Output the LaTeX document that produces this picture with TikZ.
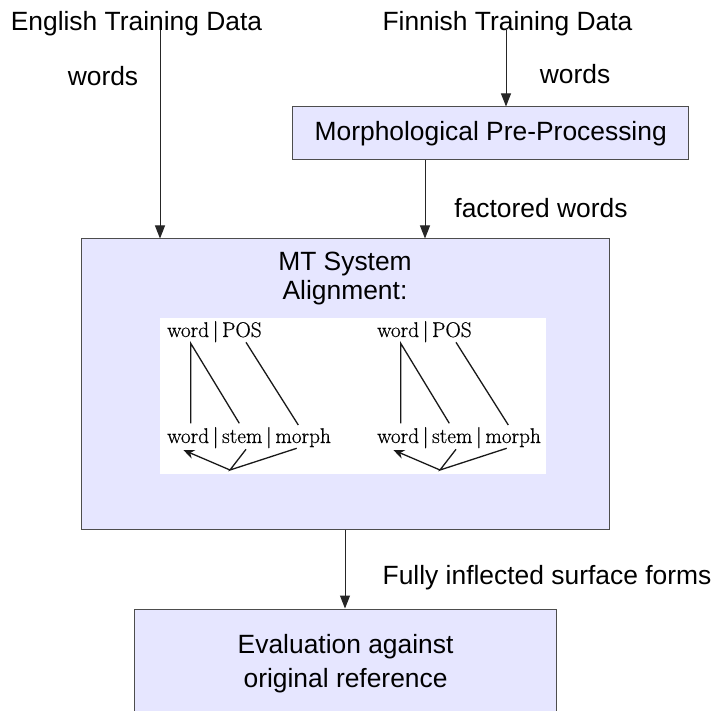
\documentclass[tikz,border=0pt]{standalone}
\usepackage{fontspec}
\setsansfont{Liberation Sans}
\newfontfamily\figfont[FakeBold=0.5]{Latin Modern Roman}
\usetikzlibrary{arrows.meta}
\definecolor{boxfill}{HTML}{E6E6FF}
\definecolor{boxline}{HTML}{4D4D4D}
\begin{document}
\begin{tikzpicture}[x=1pt,y=-1pt,
  lbl/.style={font=\sffamily\fontsize{26.4}{31}\selectfont, inner sep=0pt, anchor=base},
  box/.style={draw=boxline, fill=boxfill, line width=1pt, inner sep=0pt,
              font=\sffamily\fontsize{26.4}{34}\selectfont, align=center},
  flow/.style={draw=black!85, line width=1pt, -{Triangle[length=13pt,width=10pt]}},
  fig/.style={font=\figfont\fontsize{21.3}{24}\selectfont, inner sep=0pt, anchor=base west},
  figline/.style={line width=1.3pt, draw=black!90}]
\useasboundingbox (0,0) rectangle (713,711);
\clip (0,0) rectangle (713,711);

% data sources
\node[lbl] (eng) at (136.5,31) {English Training Data};
\node[lbl] (fin) at (507.5,31) {Finnish Training Data};
\coordinate (engdrop) at (160,30);
\coordinate (findrop) at (506,30);

% processing boxes
\node[box, minimum width=396pt, minimum height=52.7pt] (pre) at (490.7,133.3)
  {Morphological Pre-Processing};
\node[box, minimum width=527.3pt, minimum height=290pt] (mt) at (345.35,384) {};
\node[lbl] (mttitle) at (345,271) {MT System};
\node[lbl] (mtsub) at (345,300) {Alignment:};
\node[box, minimum width=422.7pt, minimum height=110pt] (eval) at (345.6,664)
  {Evaluation against\\original reference};

% connectors
\draw[flow] (engdrop) -- (engdrop |- mt.north);
\draw[flow] (findrop) -- (findrop |- pre.north);
\draw[flow] (pre.south -| 425,0) -- (mt.north -| 425,0);
\draw[flow] (mt.south -| 345,0) -- (eval.north -| 345,0);

% edge labels
\node[lbl] (w1) at (103,86) {words};
\node[lbl] (w2) at (575,84) {words};
\node[lbl] (fw) at (541,218) {factored words};
\node[lbl] (fif) at (547,584) {Fully inflected surface forms};

% factored alignment figure
\node[fill=white, minimum width=386pt, minimum height=156pt, inner sep=0pt] (panel) at (353,396) {};
\foreach \dx/\s in {0/a, 210/b} {
  \begin{scope}[xshift=\dx pt]
    \node[fig] (top\s) at (167,337) {word\,|\,POS};
    \node[fig] (bot\s) at (167,443) {word\,|\,stem\,|\,morph};
    \coordinate (tw\s) at (190.7,343.3);
    \coordinate (tp\s) at (246,342.3);
    \coordinate (bw\s) at (190.7,423.3);
    \coordinate (bs\s) at (239.3,423.3);
    \coordinate (bm\s) at (298.3,425);
    \coordinate (root\s) at (230,470);
    \coordinate (aw\s) at (183.3,450);
    \coordinate (as\s) at (246,449.3);
    \coordinate (am\s) at (296.7,448.3);
    \draw[figline] (bw\s) -- (tw\s) -- (bs\s);
    \draw[figline] (tp\s) -- (bm\s);
    \draw[figline] (as\s) -- (root\s) -- (am\s);
    \draw[figline, -{Stealth[length=11pt,width=9pt]}] (root\s) -- (aw\s);
  \end{scope}
}
\end{tikzpicture}
\end{document}
